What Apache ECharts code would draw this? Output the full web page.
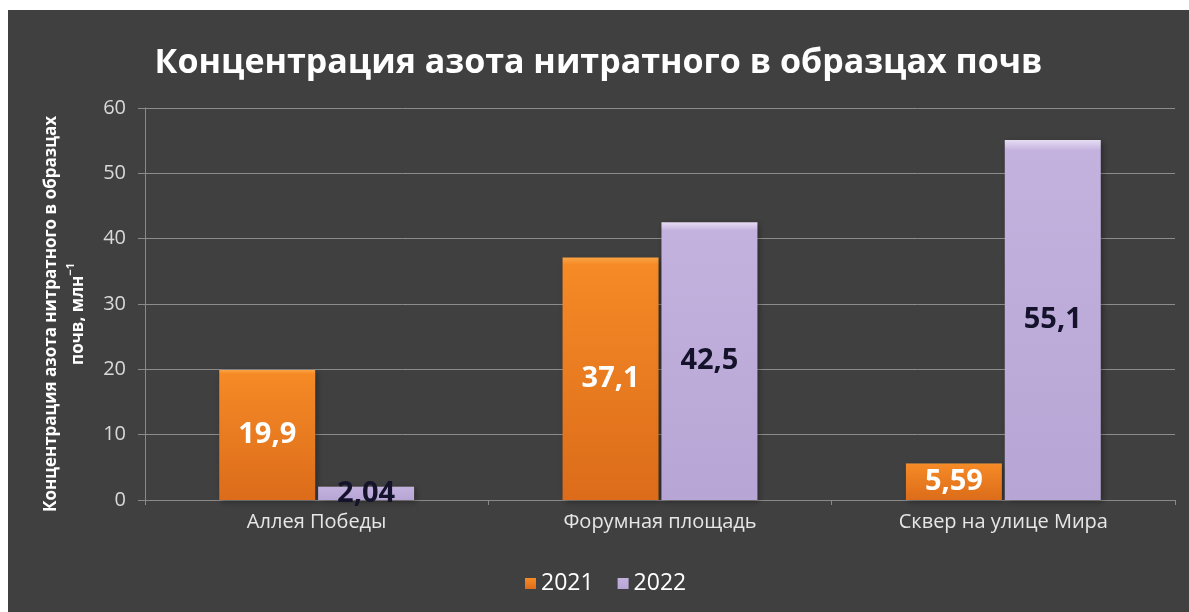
<!DOCTYPE html>
<html>
<head>
<meta charset="utf-8">
<script src="https://cdn.jsdelivr.net/npm/echarts@6/dist/echarts.min.js"></script>
<style>
  html, body { margin: 0; padding: 0; background: #ffffff; width: 1189px; height: 612px; overflow: hidden; }
  #chart { position: absolute; left: 8px; top: 10px; width: 1181px; height: 602px; }
</style>
</head>
<body>
<div id="chart"></div>
<script>
const categories = ['Аллея Победы', 'Форумная площадь', 'Сквер на улице Мира'];
const seriesNames = ['2021', '2022'];
const values2021 = [19.9, 37.1, 5.59];
const values2022 = [2.04, 42.5, 55.1];
const yTicks = { min: 0, max: 60, interval: 10 };

const FONT = '"Open Sans", "Noto Sans", sans-serif';
const chart = echarts.init(document.getElementById('chart'), null, { renderer: 'canvas' });

function fmt(p) { return String(p.value).replace('.', ','); }

const orange = new echarts.graphic.LinearGradient(0, 0, 0, 1, [
  { offset: 0, color: '#fba343' },
  { offset: 0.03, color: '#f58a26' },
  { offset: 1, color: '#dc6c1a' }
]);
const purple = new echarts.graphic.LinearGradient(0, 0, 0, 1, [
  { offset: 0, color: '#e6dcf3' },
  { offset: 0.03, color: '#c3b1de' },
  { offset: 1, color: '#b7a5d5' }
]);

chart.setOption({
  backgroundColor: '#404040',
  animation: false,
  textStyle: { fontFamily: FONT },
  title: {
    text: 'Концентрация азота нитратного в образцах почв',
    left: 'center',
    top: 31,
    textStyle: { color: '#ffffff', fontSize: 34, fontWeight: 'bold', fontFamily: FONT }
  },
  legend: {
    data: seriesNames,
    left: 512,
    bottom: 12,
    itemWidth: 11,
    itemHeight: 11,
    itemGap: 24,
    icon: 'rect',
    textStyle: { color: '#ffffff', fontSize: 23, fontFamily: FONT, padding: [0, 0, 0, 0] }
  },
  grid: { left: 137, right: 14, top: 98, bottom: 112 },
  xAxis: {
    type: 'category',
    data: categories,
    axisLine: { show: true, lineStyle: { color: '#8a8a8a', width: 1 } },
    axisTick: { show: true, length: 5, lineStyle: { color: '#8a8a8a' } },
    axisLabel: { color: '#e6e6e6', fontSize: 20, margin: 12, fontFamily: FONT }
  },
  yAxis: {
    type: 'value',
    min: yTicks.min,
    max: yTicks.max,
    interval: yTicks.interval,
    name: 'Концентрация азота нитратного в образцах\nпочв, млн{sup|−1}',
    nameLocation: 'middle',
    nameGap: 53,
    nameTextStyle: {
      color: '#ffffff', fontSize: 17, fontWeight: 'bold', lineHeight: 27, fontFamily: FONT,
      padding: [0, 20, 0, 0],
      rich: { sup: { fontSize: 11, fontWeight: 'bold', color: '#ffffff', verticalAlign: 'top', padding: [0, 0, 10, 0] } }
    },
    axisLine: { show: true, lineStyle: { color: '#8a8a8a', width: 1 } },
    axisTick: { show: true, length: 7, lineStyle: { color: '#8a8a8a' } },
    axisLabel: { color: '#d9d9d9', fontSize: 20, margin: 19, fontFamily: FONT },
    splitLine: { show: true, lineStyle: { color: '#8c8c8c', width: 1 } }
  },
  series: [
    {
      name: seriesNames[0],
      type: 'bar',
      data: values2021,
      barWidth: 96,
      barGap: '3%',
      itemStyle: { color: orange, shadowColor: 'rgba(0,0,0,0.35)', shadowBlur: 6, shadowOffsetX: 2, shadowOffsetY: 2 },
      label: { show: true, position: 'inside', formatter: fmt, color: '#ffffff', fontSize: 29, fontWeight: 'bold', fontFamily: FONT }
    },
    {
      name: seriesNames[1],
      type: 'bar',
      data: values2022,
      barWidth: 96,
      barGap: '3%',
      itemStyle: { color: purple, shadowColor: 'rgba(0,0,0,0.35)', shadowBlur: 6, shadowOffsetX: 2, shadowOffsetY: 2 },
      label: { show: true, position: 'inside', formatter: fmt, color: '#15132b', fontSize: 29, fontWeight: 'bold', fontFamily: FONT }
    }
  ]
});
</script>
</body>
</html>
